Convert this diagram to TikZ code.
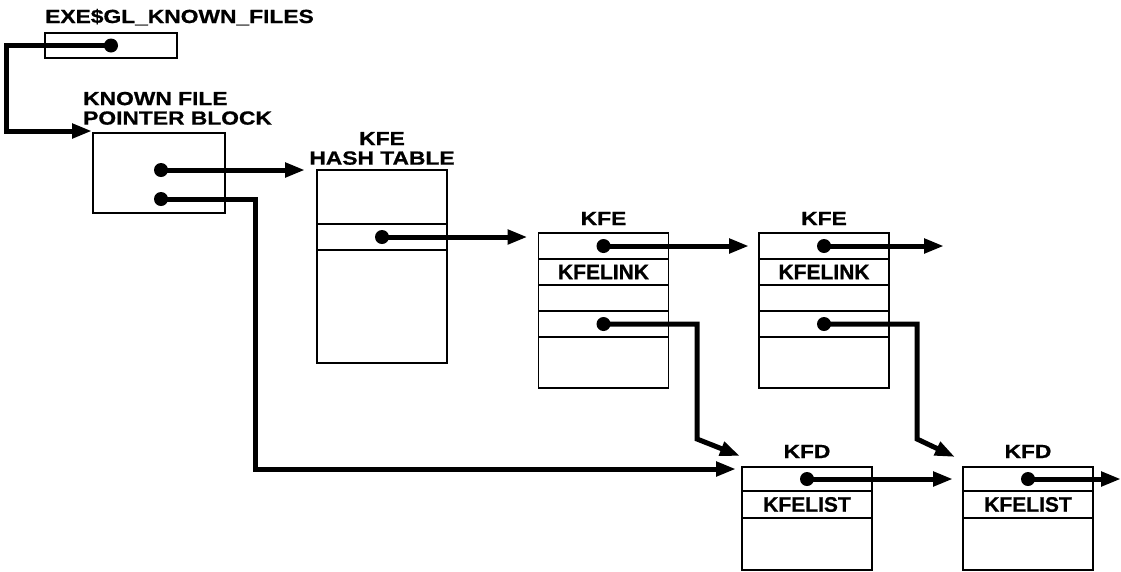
\documentclass[tikz,border=0pt]{standalone}
\usepackage{fontspec}
\newfontfamily\lblfont[BoldFeatures={FakeBold=0.8}]{Liberation Sans}
\newfontfamily\headfont[FakeStretch=1.2,BoldFeatures={FakeBold=0.8}]{Liberation Sans}
\usetikzlibrary{positioning,calc,arrows.meta}
\begin{document}
\begin{tikzpicture}[x=1pt,y=-1pt,node distance=0pt,
  cell/.style={draw,line width=1.9pt,minimum width=130pt,inner sep=0pt,outer sep=0pt,
    font=\lblfont\bfseries\fontsize{21}{25}\selectfont},
  head/.style={inner sep=0pt,align=center,font=\headfont\bfseries\fontsize{19}{19.5}\selectfont},
  dot/.style={circle,fill,inner sep=0pt,minimum size=14pt},
  ptr/.style={line width=5pt,-{Triangle[length=20pt,width=14pt]}}]
\useasboundingbox (0,0) rectangle (1121,571);
\node[cell,minimum width=132pt,minimum height=25pt] (exe) at (111,45.5) {};
\node[cell,minimum width=132pt,minimum height=80pt] (kfpb) at (159,173) {};
\node[cell,minimum height=54pt] (hashtop) at (382,197) {};
\node[cell,minimum height=26pt,below=of hashtop] (hashslot) {};
\node[cell,minimum height=113pt,below=of hashslot] (hashbot) {};
\node[cell,minimum height=26pt] (kfeAnext) at (603.5,246) {};
\node[cell,minimum height=26pt,below=of kfeAnext] (kfeAlink) {KFELINK};
\node[cell,minimum height=26pt,below=of kfeAlink] (kfeAc) {};
\node[cell,minimum height=26pt,below=of kfeAc] (kfeAfd) {};
\node[cell,minimum height=51pt,below=of kfeAfd] (kfeAe) {};
\node[cell,minimum height=26pt] (kfeBnext) at (824,246) {};
\node[cell,minimum height=26pt,below=of kfeBnext] (kfeBlink) {KFELINK};
\node[cell,minimum height=26pt,below=of kfeBlink] (kfeBc) {};
\node[cell,minimum height=26pt,below=of kfeBc] (kfeBfd) {};
\node[cell,minimum height=51pt,below=of kfeBfd] (kfeBe) {};
\node[cell,minimum height=24pt] (kfdAnext) at (807,479) {};
\node[cell,minimum height=27pt,below=of kfdAnext] (kfdAlist) {KFELIST};
\node[cell,minimum height=52pt,below=of kfdAlist] (kfdAe) {};
\node[cell,minimum height=24pt] (kfdBnext) at (1028,479) {};
\node[cell,minimum height=27pt,below=of kfdBnext] (kfdBlist) {KFELIST};
\node[cell,minimum height=52pt,below=of kfdBlist] (kfdBe) {};
\node[head,anchor=base west] (exelbl) at ($(exe.north west)+(0,-10)$) {EXE\$GL\_KNOWN\_FILES};
\node[head,align=left,anchor=south west] (pblbl) at ($(kfpb.north west)+(-10,-8)$) {KNOWN FILE\\POINTER BLOCK};
\node[head,anchor=south] (hashlbl) at ($(hashtop.north)+(0,-5)$) {KFE\\HASH TABLE};
\node[head,anchor=base] (kfeAlbl) at ($(kfeAnext.north)+(0,-8)$) {KFE};
\node[head,anchor=base] (kfeBlbl) at ($(kfeBnext.north)+(0,-8)$) {KFE};
\node[head,anchor=base] (kfdAlbl) at ($(kfdAnext.north)+(0,-9)$) {KFD};
\node[head,anchor=base] (kfdBlbl) at ($(kfdBnext.north)+(0,-9)$) {KFD};
\node[dot] (exedot) at (exe.center) {};
\node[dot] (pbdotA) at ($(kfpb.center)+(2,-3)$) {};
\node[dot] (pbdotB) at ($(kfpb.center)+(2,26)$) {};
\node[dot] (hashdot) at (hashslot.center) {};
\node[dot] (kfeAdotA) at (kfeAnext.center) {};
\node[dot] (kfeAdotB) at (kfeAfd.center) {};
\node[dot] (kfeBdotA) at (kfeBnext.center) {};
\node[dot] (kfeBdotB) at (kfeBfd.center) {};
\node[dot] (kfdAdot) at (kfdAnext.center) {};
\node[dot] (kfdBdot) at (kfdBnext.center) {};
\coordinate (pbin) at ($(kfpb.north west)+(-1,-2)$);
\coordinate (hashin) at ($(hashtop.north west)+(-12,0)$);
\coordinate (kfeAin) at ($(kfeAnext.north west)+(-11,5)$);
\coordinate (kfeBin) at ($(kfeBnext.west)+(-10,0)$);
\coordinate (kfeBout) at ($(kfeBnext.east)+(55,0)$);
\coordinate (kfdAin) at ($(kfdAnext.north west)+(-6,2)$);
\coordinate (kfdAtip) at ($(kfdAnext.north west)+(-2,-11)$);
\coordinate (kfdBin) at ($(kfdBnext.west)+(-10,0)$);
\coordinate (kfdBtip) at ($(kfdBnext.north west)+(-8,-10)$);
\coordinate (kfdBout) at ($(kfdBnext.east)+(28,0)$);
\draw[ptr] (exedot.center) -- ++(-105,0) |- (pbin);
\draw[ptr] (pbdotA.center) -- (pbdotA.center -| hashin);
\draw[ptr] (pbdotB.center) -- ++(94,0) |- (kfdAin);
\draw[ptr] (hashdot.center) -- (hashdot.center -| kfeAin);
\draw[ptr] (kfeAdotA.center) -- (kfeBin);
\draw[ptr] (kfeBdotA.center) -- (kfeBout);
\draw[ptr] (kfeAdotB.center) -| ($(kfdAtip)+(-43,-17)$) -- (kfdAtip);
\draw[ptr] (kfeBdotB.center) -| ($(kfdBtip)+(-38,-18)$) -- (kfdBtip);
\draw[ptr] (kfdAdot.center) -- (kfdBin);
\draw[ptr] (kfdBdot.center) -- (kfdBout);
\end{tikzpicture}
\end{document}
